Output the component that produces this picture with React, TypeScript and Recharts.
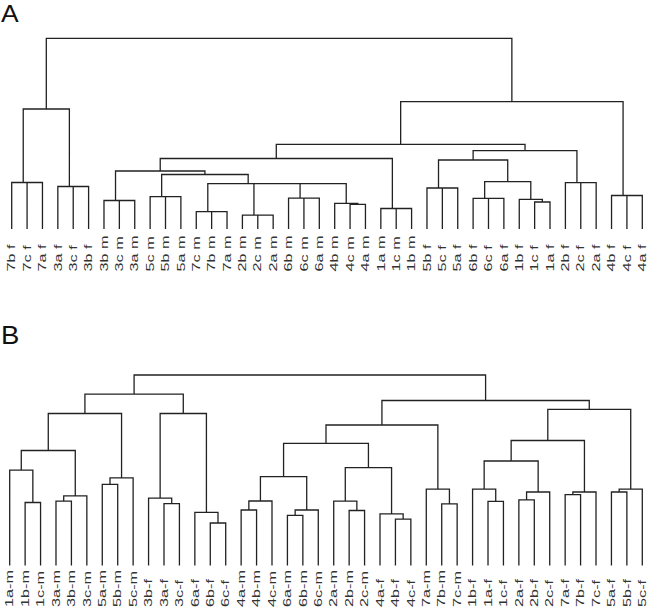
import React from 'react';
import { LineChart, Line, XAxis, YAxis } from 'recharts';

// Panel A: leaves in plot order, merges in hclust style (negative = leaf, positive = earlier merge)
const labelsA = [
  '7b f', '7c f', '7a f', '3a f', '3c f', '3b f', '3b m', '3c m', '3a m', '5c m', '5b m', '5a m',
  '7c m', '7b m', '7a m', '2b m', '2c m', '2a m', '6b m', '6c m', '6a m', '4b m', '4c m', '4a m',
  '1a m', '1c m', '1b m', '5b f', '5c f', '5a f', '6b f', '6c f', '6a f', '1b f', '1c f', '1a f',
  '2b f', '2c f', '2a f', '4b f', '4c f', '4a f'
];
const mergesA: [number, number][] = [
  [-2, -3], [-1, 1], [-5, -6], [-4, 3], [2, 4],
  [-8, -9], [-7, 6], [-11, -12], [-10, 8], [-14, -15], [-13, 10], [-17, -18], [-16, 12],
  [-20, -21], [-19, 14], [-23, -24], [-22, 16], [15, 17], [13, 18], [11, 19], [9, 20], [7, 21],
  [-26, -27], [-25, 23], [22, 24],
  [-29, -30], [-28, 26], [-32, -33], [-31, 28], [-35, -36], [-34, 30], [29, 31], [27, 32],
  [-38, -39], [-37, 34], [33, 35], [25, 36],
  [-41, -42], [-40, 38], [37, 39], [5, 40]
];
const heightsA = [
  46.5, 46.5, 42.5, 42.5, 120,
  28.5, 28.5, 32.3, 32.3, 17.3, 17.3, 13.8, 13.8,
  30.8, 30.8, 24.7, 25.7, 45.3, 45.3, 45.3, 54.5, 58,
  20.5, 20.5, 70.5,
  41, 41, 30.7, 30.7, 27, 29.7, 47.3, 69,
  46.3, 46.3, 78.3, 84.7,
  33.5, 33.5, 127.3, 190.7
];

// Panel B
const labelsB = [
  '1a-m', '1b-m', '1c-m', '3a-m', '3b-m', '3c-m', '5a-m', '5b-m', '5c-m', '3b-f', '3a-f', '3c-f',
  '6a-f', '6b-f', '6c-f', '4a-m', '4b-m', '4c-m', '6a-m', '6b-m', '6c-m', '2a-m', '2b-m', '2c-m',
  '4a-f', '4b-f', '4c-f', '7a-m', '7b-m', '7c-m', '1b-f', '1a-f', '1c-f', '2a-f', '2b-f', '2c-f',
  '7a-f', '7b-f', '7c-f', '5a-f', '5b-f', '5c-f'
];
const mergesB: [number, number][] = [
  [-2, -3], [-1, 1], [-4, -5], [3, -6], [2, 4], [-7, -8], [6, -9], [5, 7],
  [-11, -12], [-10, 9], [-14, -15], [-13, 11], [10, 12], [8, 13],
  [-16, -17], [15, -18], [-19, -20], [17, -21], [16, 18],
  [-23, -24], [-22, 20], [-26, -27], [-25, 22], [21, 23], [19, 24],
  [-29, -30], [-28, 26], [25, 27],
  [-32, -33], [-31, 29], [-34, -35], [31, -36], [30, 32],
  [-37, -38], [34, -39], [33, 35], [-40, -41], [37, -42], [36, 38],
  [28, 39], [14, 40]
];
const heightsB = [
  63, 95.3, 64.3, 69.7, 115, 81.2, 87.7, 152,
  61.8, 67.3, 42.5, 53.2, 152, 171.3,
  55.5, 64.5, 50.2, 55.5, 88.8,
  55, 64.3, 46.3, 51.7, 97.8, 122.2,
  61.7, 76.3, 140.5,
  64.2, 76.3, 65.7, 73.5, 104.5,
  70.8, 73.5, 125, 73.5, 76.3, 156.2,
  165, 190.5
];

type Pt = { x: number; y: number | null };

function buildTree(labels: string[], merges: [number, number][], heights: number[]) {
  const order: number[] = [];
  const visit = (ref: number) => {
    if (ref < 0) order.push(-ref);
    else {
      visit(merges[ref - 1][0]);
      visit(merges[ref - 1][1]);
    }
  };
  visit(merges.length);
  const pos: Record<number, number> = {};
  order.forEach((leaf, i) => (pos[leaf] = i + 1));
  const nodeX: number[] = [];
  const xOf = (ref: number) => (ref < 0 ? pos[-ref] : nodeX[ref - 1]);
  const hOf = (ref: number) => (ref < 0 ? 0 : heights[ref - 1]);
  const pts: Pt[] = [];
  merges.forEach(([a, b], i) => {
    const xa = xOf(a);
    const xb = xOf(b);
    const h = heights[i];
    nodeX[i] = (xa + xb) / 2;
    pts.push({ x: xa, y: hOf(a) }, { x: xa, y: h }, { x: xb, y: h }, { x: xb, y: hOf(b) }, { x: xb, y: null });
  });
  return { pts, tickLabels: order.map((l) => labels[l - 1]) };
}

const font = "'Liberation Sans', Arial, sans-serif";

function Dendrogram({
  labels,
  merges,
  heights,
  height,
  margin,
  axisHeight,
  labelBottom
}: {
  labels: string[];
  merges: [number, number][];
  heights: number[];
  height: number;
  margin: { top: number; right: number; bottom: number; left: number };
  axisHeight: number;
  labelBottom: number;
}) {
  const { pts, tickLabels } = buildTree(labels, merges, heights);
  const ticks = tickLabels.map((_, i) => i + 1);
  const maxH = Math.max(...heights);
  const renderTick = (props: any) => {
    const { x, payload } = props;
    const text = tickLabels[payload.value - 1];
    return (
      <g transform={`translate(${x + 3.7},${labelBottom}) rotate(-90)`}>
        <text transform="scale(1.55,1)" x={0} y={0} textAnchor="start" fontSize={10.5} fontFamily={font} fill="#333">
          {text}
        </text>
      </g>
    );
  };
  return (
    <LineChart width={651} height={height} data={pts} margin={margin}>
      <XAxis
        type="number"
        dataKey="x"
        domain={[1, tickLabels.length]}
        ticks={ticks}
        interval={0}
        height={axisHeight}
        axisLine={false}
        tickLine={false}
        tick={renderTick}
      />
      <YAxis type="number" domain={[0, maxH]} hide />
      <Line
        dataKey="y"
        stroke="#222"
        strokeWidth={1.3}
        dot={false}
        activeDot={false}
        connectNulls={false}
        isAnimationActive={false}
      />
    </LineChart>
  );
}

export default function App() {
  return (
    <div style={{ position: 'absolute', left: 0, top: 0, width: 651, height: 608, background: '#fff', overflow: 'hidden' }}>
      <div style={{ position: 'absolute', left: 0, top: 0 }}>
        <Dendrogram
          labels={labelsA}
          merges={mergesA}
          heights={heightsA}
          height={290}
          margin={{ top: 38.3, right: 8.7, bottom: 0, left: 11.7 }}
          axisHeight={61}
          labelBottom={271.5}
        />
      </div>
      <div style={{ position: 'absolute', left: 0, top: 290 }}>
        <Dendrogram
          labels={labelsB}
          merges={mergesB}
          heights={heightsB}
          height={318}
          margin={{ top: 85, right: 8.7, bottom: 0, left: 9.7 }}
          axisHeight={42.5}
          labelBottom={317}
        />
      </div>
      <svg width={651} height={608} style={{ position: 'absolute', left: 0, top: 0, pointerEvents: 'none' }}>
        <text transform="translate(1,22) scale(1.15,1)" fontSize={23} fontFamily={font} fill="#111">
          A
        </text>
        <text transform="translate(1,344) scale(1.1,1)" fontSize={25} fontFamily={font} fill="#111">
          B
        </text>
      </svg>
    </div>
  );
}
